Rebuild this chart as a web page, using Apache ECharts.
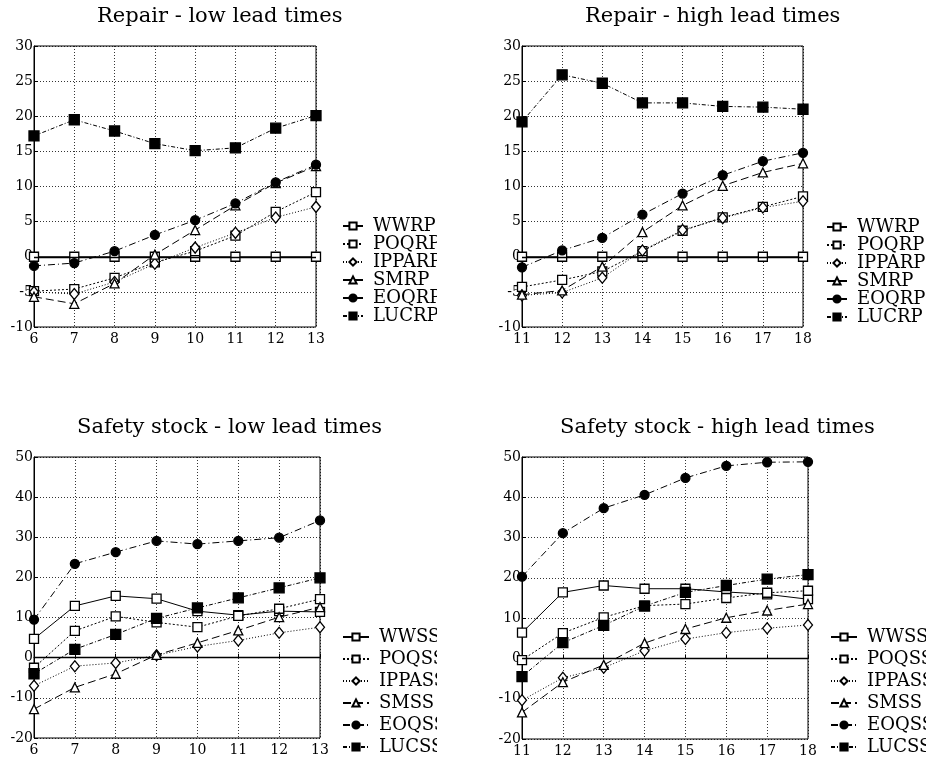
<!DOCTYPE html>
<html>
<head>
<meta charset="utf-8">
<script src="https://cdn.jsdelivr.net/npm/echarts@6/dist/echarts.min.js"></script>
<style>
html,body{margin:0;padding:0;background:#fff;width:926px;height:760px;overflow:hidden;}
.p{position:absolute;overflow:hidden;}
</style>
</head>
<body>
<div id="tl" class="p" style="left:0;top:0;width:437px;height:380px"></div>
<div id="tr" class="p" style="left:470px;top:0;width:456px;height:380px"></div>
<div id="bl" class="p" style="left:0;top:380px;width:437px;height:380px"></div>
<div id="br" class="p" style="left:470px;top:380px;width:456px;height:380px"></div>
<script>
// ---- data ----
const xLow = ['6','7','8','9','10','11','12','13'];
const xHigh = ['11','12','13','14','15','16','17','18'];

const repairNames = ['WWRP','POQRP','IPPARP','SMRP','EOQRP','LUCRP'];
const ssNames = ['WWSS','POQSS','IPPASS','SMSS','EOQSS','LUCSS'];

// Repair - low lead times
const rlWW   = [0, 0, 0, 0, 0, 0, 0, 0];
const rlPOQ  = [-4.9, -4.6, -3.0, -0.8, 0.8, 3.0, 6.4, 9.2];
const rlIPPA = [-5.0, -5.3, -3.6, -1.0, 1.3, 3.4, 5.6, 7.1];
const rlSM   = [-5.7, -6.7, -3.8, 0.3, 3.8, 7.3, 10.5, 12.9];
const rlEOQ  = [-1.3, -0.9, 0.8, 3.1, 5.2, 7.6, 10.6, 13.1];
const rlLUC  = [17.2, 19.5, 17.9, 16.1, 15.1, 15.5, 18.3, 20.1];

// Repair - high lead times
const rhWW   = [0, 0, 0, 0, 0, 0, 0, 0];
const rhPOQ  = [-4.3, -3.3, -2.1, 0.8, 3.7, 5.6, 7.1, 8.6];
const rhIPPA = [-5.5, -5.1, -3.0, 0.9, 3.8, 5.5, 7.0, 7.9];
const rhSM   = [-5.4, -4.8, -1.4, 3.5, 7.3, 10.1, 12.0, 13.3];
const rhEOQ  = [-1.5, 0.9, 2.7, 6.0, 9.0, 11.6, 13.6, 14.8];
const rhLUC  = [19.2, 25.9, 24.7, 21.9, 21.9, 21.4, 21.3, 21.0];

// Safety stock - low lead times
const slWW   = [4.7, 12.9, 15.4, 14.7, 11.6, 10.6, 11.6, 11.4];
const slPOQ  = [-2.5, 6.7, 10.3, 8.8, 7.6, 10.4, 12.2, 14.6];
const slIPPA = [-7.0, -2.1, -1.3, 0.6, 2.8, 4.3, 6.2, 7.6];
const slSM   = [-12.8, -7.4, -4.0, 0.7, 3.7, 6.8, 10.1, 12.6];
const slEOQ  = [9.5, 23.4, 26.3, 29.1, 28.3, 29.1, 29.9, 34.2];
const slLUC  = [-4.0, 2.1, 5.8, 9.8, 12.4, 14.9, 17.4, 19.9];

// Safety stock - high lead times
const shWW   = [6.4, 16.4, 18.1, 17.3, 17.3, 16.5, 15.9, 14.7];
const shPOQ  = [-0.4, 6.3, 10.2, 13.1, 13.5, 15.0, 16.3, 16.8];
const shIPPA = [-10.4, -4.8, -2.3, 1.9, 4.8, 6.4, 7.5, 8.3];
const shSM   = [-13.4, -5.9, -1.6, 3.8, 7.3, 10.1, 11.9, 13.5];
const shEOQ  = [20.3, 31.1, 37.3, 40.6, 44.8, 47.8, 48.7, 48.8];
const shLUC  = [-4.5, 3.9, 8.2, 13.0, 16.4, 18.1, 19.7, 20.8];

const yTicksRepair = {min: -10, max: 30, interval: 5};
const yTicksSS = {min: -20, max: 50, interval: 10};

// ---- styles ----
const FONT = 'DejaVu Serif';
const styles = [
  {symbol: 'rect', size: 9, fill: '#fff', dash: 'solid'},
  {symbol: 'rect', size: 9, fill: '#fff', dash: [2, 2]},
  {symbol: 'diamond', size: [9, 11], fill: '#fff', dash: [1, 2]},
  {symbol: 'triangle', size: 9, fill: '#fff', dash: [8, 4]},
  {symbol: 'circle', size: 9, fill: '#000', dash: [7, 3, 1, 3]},
  {symbol: 'rect', size: 10, fill: '#000', dash: [4, 2, 1, 2]}
];

function makeSeries(names, arrays) {
  return names.map((n, i) => {
    const st = styles[i];
    const s = {
      name: n, type: 'line', data: arrays[i],
      symbol: st.symbol, symbolSize: st.size, showSymbol: true,
      lineStyle: {color: '#000', width: 1, type: st.dash},
      itemStyle: {color: st.fill, borderColor: '#000', borderWidth: 1.3},
      emphasis: {disabled: true}, animation: false, z: 3 + i
    };
    if (i === 0) {
      s.markLine = {
        silent: true, symbol: 'none', label: {show: false},
        lineStyle: {color: '#000', width: 1.3, type: 'solid'},
        data: [{yAxis: 0}], animation: false
      };
    }
    return s;
  });
}

function makeChart(id, cfg) {
  const c = echarts.init(document.getElementById(id), null, {renderer: 'canvas'});
  c.setOption({
    animation: false,
    backgroundColor: '#fff',
    title: {
      text: cfg.title, left: cfg.titleLeft, top: cfg.titleTop, padding: 0,
      textStyle: {fontFamily: FONT, fontSize: 21, fontWeight: 'normal', color: '#000'}
    },
    grid: Object.assign({show: true, borderColor: '#000', borderWidth: 1, backgroundColor: 'transparent'}, cfg.grid),
    legend: {
      orient: 'vertical', left: cfg.legendLeft, top: cfg.legendTop, padding: 0,
      itemWidth: cfg.legendItemWidth, itemHeight: 9, itemGap: 0,
      textStyle: {fontFamily: FONT, fontSize: cfg.legendFont, color: '#000', lineHeight: cfg.legendLine, padding: [0, 0, 0, 5]},
      data: cfg.names, selectedMode: false
    },
    xAxis: {
      type: 'category', data: cfg.x, boundaryGap: false,
      axisLine: {show: true, lineStyle: {color: '#000'}},
      axisTick: {show: true, inside: true, length: 4, alignWithLabel: true, lineStyle: {color: '#000'}},
      axisLabel: {margin: 5, fontFamily: FONT, fontSize: 14, color: '#000'},
      splitLine: {show: true, lineStyle: {color: '#000', type: [1, 2], width: 0.8}}
    },
    yAxis: {
      type: 'value', min: cfg.y.min, max: cfg.y.max, interval: cfg.y.interval,
      axisLine: {show: true, lineStyle: {color: '#000'}},
      axisTick: {show: true, inside: true, length: 4, lineStyle: {color: '#000'}},
      axisLabel: {margin: 1, fontFamily: FONT, fontSize: 14, color: '#000',
        formatter: v => (v < 0 ? '-' + Math.abs(v) : String(v))},
      splitLine: {show: true, lineStyle: {color: '#000', type: [1, 2], width: 0.8}}
    },
    series: makeSeries(cfg.names, cfg.data)
  });
}

makeChart('tl', {
  title: 'Repair - low lead times', titleLeft: 97, titleTop: 6,
  grid: {left: 34, top: 46, width: 282, height: 281},
  legendLeft: 342, legendTop: 217, legendItemWidth: 20, legendFont: 18, legendLine: 16,
  names: repairNames, x: xLow, y: yTicksRepair,
  data: [rlWW, rlPOQ, rlIPPA, rlSM, rlEOQ, rlLUC]
});
makeChart('tr', {
  title: 'Repair - high lead times', titleLeft: 115, titleTop: 6,
  grid: {left: 52, top: 46, width: 281, height: 281},
  legendLeft: 356, legendTop: 218, legendItemWidth: 20, legendFont: 18, legendLine: 16,
  names: repairNames, x: xHigh, y: yTicksRepair,
  data: [rhWW, rhPOQ, rhIPPA, rhSM, rhEOQ, rhLUC]
});
makeChart('bl', {
  title: 'Safety stock - low lead times', titleLeft: 77, titleTop: 37,
  grid: {left: 34, top: 77, width: 286, height: 281},
  legendLeft: 342, legendTop: 246, legendItemWidth: 26, legendFont: 18, legendLine: 22,
  names: ssNames, x: xLow, y: yTicksSS,
  data: [slWW, slPOQ, slIPPA, slSM, slEOQ, slLUC]
});
makeChart('br', {
  title: 'Safety stock - high lead times', titleLeft: 90, titleTop: 37,
  grid: {left: 52, top: 77, width: 286, height: 282},
  legendLeft: 360, legendTop: 246, legendItemWidth: 26, legendFont: 18, legendLine: 22,
  names: ssNames, x: xHigh, y: yTicksSS,
  data: [shWW, shPOQ, shIPPA, shSM, shEOQ, shLUC]
});
</script>
</body>
</html>
